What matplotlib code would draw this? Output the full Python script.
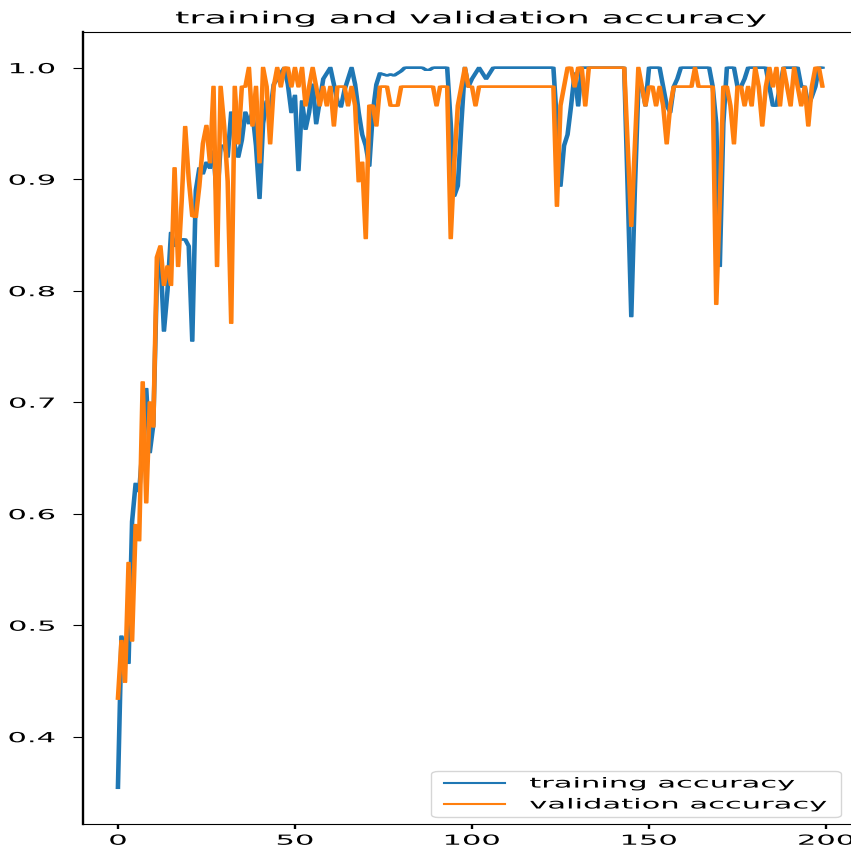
import matplotlib
matplotlib.use('Agg')
import matplotlib.pyplot as plt
import matplotlib.patheffects as pe
from matplotlib.transforms import Affine2D
import numpy as np

# accuracy per epoch
epochs = np.arange(200)
train_acc = [0.354, 0.490, 0.470, 0.466, 0.593, 0.627, 0.620, 0.661, 0.712, 0.655,
             0.680, 0.810, 0.830, 0.764, 0.800, 0.852, 0.840, 0.846, 0.846, 0.846,
             0.840, 0.755, 0.890, 0.910, 0.905, 0.915, 0.910, 0.925, 0.880, 0.930,
             0.930, 0.920, 0.960, 0.930, 0.920, 0.935, 0.960, 0.950, 0.960, 0.930,
             0.883, 0.950, 0.970, 0.960, 0.985, 0.990, 0.995, 1.000, 0.985, 0.960,
             0.975, 0.908, 0.970, 0.945, 0.960, 0.985, 0.950, 0.970, 0.990, 0.995,
             1.000, 0.985, 0.970, 0.965, 0.980, 0.990, 1.000, 0.985, 0.960, 0.940,
             0.930, 0.912, 0.960, 0.985, 0.995, 0.994, 0.993, 0.994, 0.993, 0.995,
             0.997, 1.000, 1.000, 1.000, 1.000, 1.000, 1.000, 0.998, 0.998, 1.000,
             1.000, 1.000, 1.000, 1.000, 0.950, 0.885, 0.894, 0.950, 1.000, 0.983,
             0.990, 0.995, 1.000, 0.995, 0.990, 0.995, 1.000, 1.000, 1.000, 1.000,
             1.000, 1.000, 1.000, 1.000, 1.000, 1.000, 1.000, 1.000, 1.000, 1.000,
             1.000, 1.000, 1.000, 1.000, 0.950, 0.894, 0.930, 0.940, 0.966, 0.995,
             0.966, 1.000, 1.000, 1.000, 1.000, 1.000, 1.000, 1.000, 1.000, 1.000,
             1.000, 1.000, 1.000, 1.000, 0.890, 0.777, 0.890, 0.983, 0.983, 0.966,
             1.000, 1.000, 1.000, 1.000, 0.983, 0.966, 0.960, 0.983, 0.990, 1.000,
             1.000, 1.000, 1.000, 1.000, 1.000, 1.000, 1.000, 1.000, 0.983, 0.950,
             0.822, 0.950, 1.000, 1.000, 1.000, 0.983, 0.983, 0.990, 1.000, 1.000,
             1.000, 1.000, 1.000, 1.000, 0.983, 0.966, 0.966, 0.983, 1.000, 1.000,
             1.000, 1.000, 1.000, 0.983, 0.983, 0.966, 0.974, 0.983, 1.000, 1.000]
val_acc = [0.434, 0.486, 0.449, 0.556, 0.486, 0.590, 0.576, 0.718, 0.610, 0.700,
           0.678, 0.830, 0.840, 0.805, 0.822, 0.805, 0.910, 0.822, 0.880, 0.947,
           0.900, 0.867, 0.866, 0.894, 0.932, 0.948, 0.915, 0.983, 0.822, 0.983,
           0.948, 0.898, 0.771, 0.983, 0.932, 0.983, 0.983, 1.000, 0.948, 0.983,
           0.915, 1.000, 0.983, 0.932, 0.983, 1.000, 0.983, 1.000, 1.000, 0.983,
           1.000, 0.983, 1.000, 0.966, 0.983, 1.000, 0.983, 0.966, 0.983, 0.966,
           0.983, 0.948, 0.983, 0.983, 0.983, 0.966, 0.983, 0.966, 0.898, 0.915,
           0.847, 0.966, 0.966, 0.948, 0.983, 0.983, 0.983, 0.966, 0.966, 0.966,
           0.983, 0.983, 0.983, 0.983, 0.983, 0.983, 0.983, 0.983, 0.983, 0.983,
           0.966, 0.983, 0.983, 0.983, 0.847, 0.915, 0.966, 0.983, 1.000, 0.983,
           0.983, 0.966, 0.983, 0.983, 0.983, 0.983, 0.983, 0.983, 0.983, 0.983,
           0.983, 0.983, 0.983, 0.983, 0.983, 0.983, 0.983, 0.983, 0.983, 0.983,
           0.983, 0.983, 0.983, 0.983, 0.876, 0.966, 0.983, 1.000, 1.000, 0.983,
           1.000, 1.000, 0.966, 1.000, 1.000, 1.000, 1.000, 1.000, 1.000, 1.000,
           1.000, 1.000, 1.000, 1.000, 0.930, 0.858, 0.930, 1.000, 0.983, 0.966,
           0.983, 0.983, 0.966, 0.983, 0.966, 0.932, 0.966, 0.983, 0.983, 0.983,
           0.983, 0.983, 0.983, 1.000, 0.983, 0.983, 0.983, 0.983, 0.983, 0.788,
           0.880, 0.983, 0.983, 0.966, 0.932, 0.983, 0.983, 0.966, 0.983, 0.966,
           1.000, 0.983, 0.948, 0.983, 1.000, 0.983, 1.000, 0.966, 1.000, 0.983,
           0.966, 1.000, 0.983, 0.966, 0.983, 0.948, 0.983, 1.000, 1.000, 0.983]
xticks = [0, 50, 100, 150, 200]
yticks = [0.4, 0.5, 0.6, 0.7, 0.8, 0.9, 1.0]

SX = 2.2  # the reference is a figure that was stretched sideways by about this much


# draws a path widened horizontally around an anchor x (in pixels)
class StretchX(pe.AbstractPathEffect):
    def __init__(self, sx, anchor='center', ref=None):
        super().__init__()
        self.sx, self.anchor, self.ref = sx, anchor, ref

    def draw_path(self, renderer, gc, tpath, affine, rgbFace=None):
        if self.ref is not None:
            x0 = self.ref()
        else:
            ext = tpath.get_extents(affine)
            x0 = {'left': ext.x0, 'right': ext.x1}.get(self.anchor, 0.5 * (ext.x0 + ext.x1))
        t = affine + Affine2D().translate(-x0, 0).scale(self.sx, 1).translate(x0, 0)
        renderer.draw_path(gc, tpath, t, rgbFace)


fig = plt.figure(figsize=(8.51, 8.54), dpi=100)
# right spine falls just outside the picture, as in the reference
ax = fig.add_axes([82.7/851, 29/854, 775/851, 792.3/854])

# the sideways stretch makes steep strokes wider than flat ones
fat = [pe.Stroke(offset=(-0.9, 0)), pe.Stroke(offset=(0.9, 0)), pe.Normal()]
ax.plot(epochs, train_acc, label='training accuracy', path_effects=fat)
ax.plot(epochs, val_acc, label='validation accuracy', path_effects=fat)

ax.set_xticks(xticks)
ax.set_yticks(yticks)
ax.tick_params(axis='x', width=1.7)
ax.tick_params(axis='y', length=7.5, pad=12.5)
ax.spines['left'].set_linewidth(1.7)
for lab in ax.get_xticklabels():
    lab.set_path_effects([StretchX(SX, 'center')])
for lab in ax.get_yticklabels():
    lab.set_path_effects([StretchX(SX, 'right')])

title = ax.set_title('training and validation accuracy')
title.set_path_effects([StretchX(SX, 'center')])

leg = ax.legend(loc='lower right', bbox_to_anchor=(0.987, 0))
right = lambda: leg.get_frame().get_window_extent().x1
for a in [leg.get_frame()] + leg.get_lines() + leg.get_texts():
    a.set_path_effects([StretchX(SX, ref=right)])

plt.savefig('out.png', dpi=100)
